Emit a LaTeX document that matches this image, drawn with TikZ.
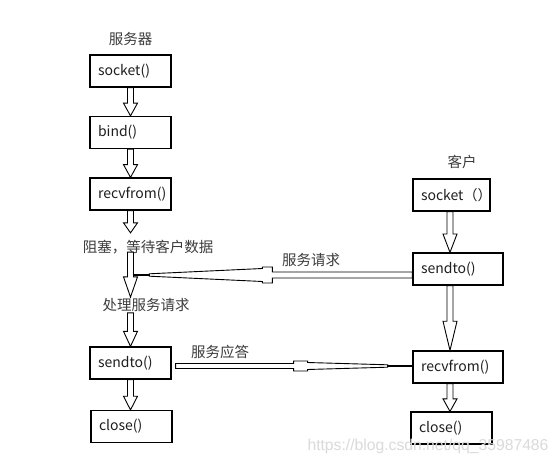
\documentclass[tikz,border=0pt]{standalone}
\usepackage{fontspec}
\setmainfont{Noto Sans CJK SC}
\newfontfamily\urlfont{Liberation Sans}
\usepackage{tikz}
\usepackage{xcolor}
\usetikzlibrary{
    positioning,
    calc
}
\definecolor{LabelGray}{HTML}{3C3C3C}
\definecolor{BoxText}{HTML}{1E1E1E}
\definecolor{MarkGray}{HTML}{DADADA}

\tikzset{
    callbox/.style={
        draw,
        line width=1.2pt,
        minimum height=32pt,
        inner xsep=8pt,
        text width=#1,
        align=left,
        font=\fontsize{14}{16}\selectfont,
        text=BoxText
    },
    callbox/.default=65pt,
    note/.style={
        inner sep=1pt,
        font=\fontsize{14.5}{16}\selectfont,
        text=LabelGray
    },
    blkarrow/.style={draw, line width=0.9pt, fill=white},
    tipline/.style={line width=1.8pt}
}

% hollow block arrow going down, on the x of a column
\newcommand{\blkdown}[3]{%
    \draw[blkarrow] let \p1=(#1), \p2=(#2), \p3=(#3),
        \p4=($(#2)!0.45!(#1)$) in
        (\x3-3pt,\y1) -- (\x3-3pt,\y4) -- (\x3-7pt,\y4) -- (\x3,\y2)
        -- (\x3+7pt,\y4) -- (\x3+3pt,\y4) -- (\x3+3pt,\y1) -- cycle;
}
% long hollow arrow between the two columns
% tail, tip, shaft end, collar end, taper end, shaft half, collar half
\newcommand{\msgarrow}[7]{%
    \draw[blkarrow]
        ($(#1)+(0,#6)$) -- ($(#1)!#3!(#2)+(0,#6)$)
        -- ($(#1)!#3!(#2)+(0,#7)$) -- ($(#1)!#4!(#2)+(0,#7)$)
        -- ($(#1)!#4!(#2)+(0,#7-1.5pt)$) -- ($(#1)!#5!(#2)+(0,1.2pt)$)
        -- ($(#1)!#5!(#2)+(0,-1.2pt)$) -- ($(#1)!#4!(#2)+(0,-#7+1.5pt)$)
        -- ($(#1)!#4!(#2)+(0,-#7)$) -- ($(#1)!#3!(#2)+(0,-#7)$)
        -- ($(#1)!#3!(#2)+(0,-#6)$) -- ($(#1)+(0,-#6)$) -- cycle;
    \draw[tipline] ($(#1)!#5!(#2)$) -- (#2);
}

\begin{document}
\begin{tikzpicture}[x=1pt, y=-1pt]
    \path[use as bounding box, fill=white] (0,0) rectangle (559,465);
    \coordinate (scol) at (130.5,0);
    \coordinate (ccol) at (450,0);

    % server
    \node[callbox] (ssock) at (130.5,71) {socket()};
    \node[note, above=8pt of ssock] (server) {服务器};
    \node[callbox] (sbind) at (130.5,132.5) {bind()};
    \node[callbox] (srecv) at (130.5,194) {recvfrom()};
    \node[note] (wait) at (148,247) {阻塞，等待客户数据};
    \node[note] (proc) at (146,305) {处理服务请求};
    \node[callbox] (ssend) at (130.5,363) {sendto()};
    \node[callbox] (sclose) at (131.5,426.5) {close()};

    % client
    \node[callbox=61pt] (csock) at (451.5,195) {socket（）};
    \node[note, above=8pt of csock, xshift=10.5pt] (client) {客户};
    \node[callbox=74pt] (csend) at (458,269) {sendto()};
    \node[callbox=74pt] (crecv) at (458,367) {recvfrom()};
    \node[callbox] (cclose) at (451.5,428) {close()};

    % request and reply
    \coordinate (reqend) at (133.5,275);
    \msgarrow{[yshift=-6pt]csend.west}{reqend}{140pt}{150pt}{263pt}{3pt}{8pt}
    \node[note] (reqlbl) at (311,260) {服务请求};
    \msgarrow{[xshift=4pt,yshift=-3pt]ssend.east}{[yshift=1pt]crecv.west}{118pt}{132pt}{212pt}{2.5pt}{5pt}
    \node[note] (replbl) at (220,352) {服务应答};

    \blkdown{ssock.south}{sbind.north}{scol}
    \blkdown{sbind.south}{srecv.north}{scol}
    \blkdown{srecv.south}{[yshift=6pt]wait.north}{scol}
    \blkdown{[yshift=3pt]wait.south}{proc.north}{scol}
    \blkdown{proc.south}{ssend.north}{scol}
    \blkdown{ssend.south}{sclose.north}{scol}
    \blkdown{csock.south}{csend.north}{ccol}
    \blkdown{csend.south}{crecv.north}{ccol}
    \blkdown{crecv.south}{cclose.north}{ccol}

    \node[
        font=\urlfont\fontsize{15.7}{18}\selectfont,
        text=MarkGray,
        inner sep=0pt
    ] (mark) at (428,446) {https://blog.csdn.net/qq\_35987486};
\end{tikzpicture}
\end{document}
